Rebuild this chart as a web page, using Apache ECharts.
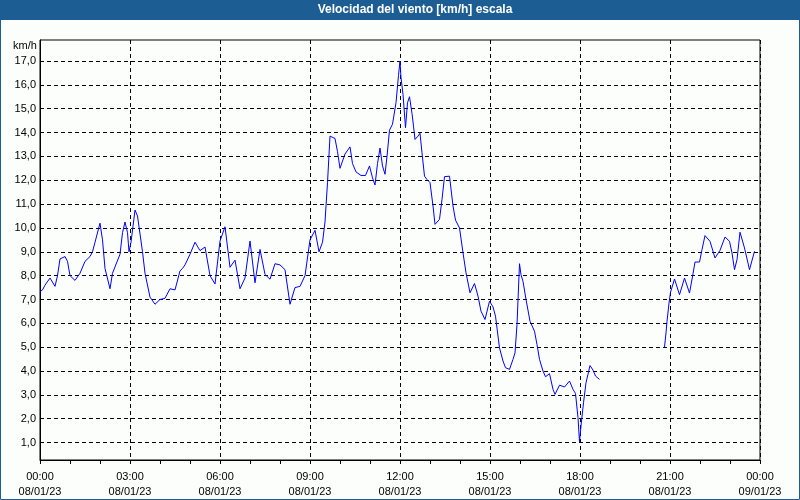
<!DOCTYPE html>
<html>
<head>
<meta charset="utf-8">
<script src="https://cdn.jsdelivr.net/npm/echarts@6/dist/echarts.min.js"></script>
<style>html,body{margin:0;padding:0;background:#fcfefc;}#c{width:800px;height:500px;}</style>
</head>
<body>
<div id="c"></div>
<script>
// time in minutes since 08/01/23 00:00
const times = [0,5,10,20,30,35,40,50,55,60,70,80,90,100,105,110,120,125,130,140,145,160,165,170,175,178,182,190,195,205,210,220,230,240,250,260,
270,280,285,290,300,310,320,330,340,350,360,370,380,390,400,410,420,430,440,450,460,470,480,490,500,510,520,530,540,550,558,
565,570,575,580,590,595,600,610,620,625,632,642,651,659,665,670,675,680,685,690,694,699,705,712,717,720,722,726,731,735,739,744,747,750,756,760,764,769,774,780,786,790,799,804,809,819,826,831,839,846,852,860,869,876,882,890,899,906,911,914,
919,926,931,939,946,950,954,959,962,966,972,980,989,994,999,1006,1011,1019,1026,1030,1039,1049,1059,1066,1071,1076,1079,1082,1087,1092,1100,1106,1111,1119,
1180,
1249,1252,1254,1258,1261,1269,1279,1289,1299,1306,1310,1319,1324,1330,1340,1350,1360,1370,1379,1384,1389,1394,1400,1409,1419,1429];
const speeds = [7.33,7.4,7.6,7.9,7.55,8.0,8.7,8.8,8.6,8.0,7.8,8.1,8.6,8.8,9.0,9.4,10.2,9.5,8.3,7.45,8.1,8.9,9.8,10.25,9.8,9.0,9.4,10.75,10.5,9.0,8.1,7.1,6.8,7.0,7.05,7.45,
7.4,8.2,8.3,8.45,8.9,9.4,9.05,9.2,8.0,7.65,9.45,10.05,8.35,8.65,7.45,7.9,9.45,7.7,9.1,8.05,7.85,8.5,8.45,8.25,6.8,7.5,7.55,8.0,9.5,9.9,9.0,
9.4,10.25,11.9,13.85,13.75,13.2,12.5,13.1,13.4,12.7,12.35,12.2,12.2,12.6,12.1,11.8,12.7,13.35,12.6,12.25,13.0,14.1,14.35,15.25,16.4,17.0,16.3,15.6,14.2,15.25,15.5,14.8,14.27,13.71,13.85,13.97,13.15,12.17,12.03,11.9,10.92,10.15,10.36,11.2,12.15,12.17,10.92,10.33,10.0,8.96,8.12,7.28,7.67,7.14,6.51,6.16,6.93,6.69,6.3,5.8,
4.97,4.42,4.14,4.07,4.49,4.76,5.95,8.5,8.04,7.76,7.0,6.09,5.67,5.11,4.49,4.0,3.76,3.89,3.23,3.02,3.41,3.33,3.58,3.23,3.06,2.04,1.03,1.7,2.67,3.51,4.23,4.04,3.79,3.65,
null,
5.0,5.6,6.08,6.85,7.3,7.86,7.2,7.9,7.27,8.08,8.57,8.57,9.09,9.68,9.44,8.74,9.06,9.62,9.44,8.95,8.25,8.67,9.82,9.16,8.25,9.02];
const yTicks = [1,2,3,4,5,6,7,8,9,10,11,12,13,14,15,16,17];
const titleText = 'Velocidad del viento [km/h] escala';
const unitText = 'km/h';

const data = times.map((t, i) => [t, speeds[i] == null ? '-' : speeds[i]]);
const pad = n => (n < 10 ? '0' : '') + n;

const chart = echarts.init(document.getElementById('c'), null, {renderer: 'canvas'});
chart.setOption({
  backgroundColor: '#fcfefc',
  animation: false,
  graphic: [
    {type: 'rect', shape: {x: 0, y: 0, width: 800, height: 20}, style: {fill: '#1c5e94'}, z: 0},
    {type: 'rect', shape: {x: 0.5, y: 0.5, width: 799, height: 499}, style: {fill: 'none', stroke: '#1c5e94', lineWidth: 1}, z: 0},
    {type: 'text', x: 415, y: 10, style: {text: titleText, fill: '#ffffff', font: 'bold 12px "Liberation Sans", Tahoma, sans-serif', textAlign: 'center', textVerticalAlign: 'middle'}, z: 5},
    {type: 'text', x: 13, y: 46, style: {text: unitText, fill: '#000', font: '11px "Liberation Sans", sans-serif', textAlign: 'left', textVerticalAlign: 'middle'}, z: 5}
  ],
  grid: {left: 40, top: 40, width: 720, height: 420, show: true, borderColor: '#000', borderWidth: 1, backgroundColor: 'transparent'},
  xAxis: {
    type: 'value', min: 0, max: 1440, interval: 180,
    axisLine: {show: true, lineStyle: {color: '#000', width: 1}},
    axisTick: {show: true, length: 4, lineStyle: {color: '#000'}},
    minorTick: {show: true, splitNumber: 3, length: 4, lineStyle: {color: '#000'}},
    splitLine: {show: true, lineStyle: {color: '#000', type: [4, 3], width: 1}},
    axisLabel: {
      color: '#000', fontSize: 11, fontFamily: '"Liberation Sans", sans-serif', margin: 9, lineHeight: 15,
      formatter: v => {
        const day = v >= 1440 ? '09/01/23' : '08/01/23';
        const m = v % 1440;
        return pad(Math.floor(m / 60)) + ':' + pad(m % 60) + '\n' + day;
      }
    }
  },
  yAxis: {
    type: 'value', min: 0.27, max: 17.88,
    axisLine: {show: true, lineStyle: {color: '#000', width: 1}},
    axisTick: {show: false, customValues: yTicks},
    splitLine: {show: true, lineStyle: {color: '#000', type: [4, 3], width: 1}},
    axisLabel: {
      customValues: yTicks, color: '#000', fontSize: 11, fontFamily: '"Liberation Sans", sans-serif', margin: 4,
      formatter: v => v.toFixed(1).replace('.', ',')
    }
  },
  series: [{
    type: 'line', data: data, showSymbol: false, symbol: 'none', connectNulls: false,
    lineStyle: {color: '#0000ff', width: 1}, itemStyle: {color: '#0000ff'}
  }]
});
</script>
</body>
</html>
